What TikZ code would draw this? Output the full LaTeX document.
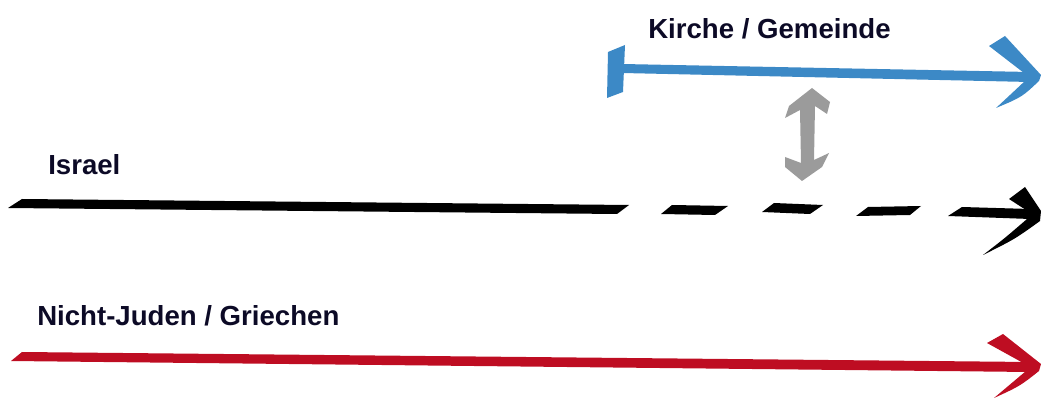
\documentclass[tikz,border=0pt]{standalone}
\usepackage{fontspec}
\setmainfont{Liberation Sans}
\definecolor{inkblue}{RGB}{60,137,198}
\definecolor{inkgray}{RGB}{155,155,155}
\definecolor{inkred}{RGB}{190,13,34}
\definecolor{labelink}{RGB}{12,10,38}
\begin{document}
\begin{tikzpicture}[x=0.75pt,y=-0.75pt,
  label/.style={anchor=base west,inner sep=0pt,text=labelink,
    font=\fontsize{20.7}{24}\selectfont\bfseries},
  brush/.style={line join=round}]
\useasboundingbox (0,0) rectangle (1041,398);

% labels
\node[label] (kirche) at (648,39) {Kirche / Gemeinde};
\node[label] (israel) at (48,175) {Israel};
\node[label] (heiden) at (37,326) {Nicht-Juden / Griechen};

% Kirche / Gemeinde: bar at the start, line, open head
\coordinate (kStart) at (616,70);
\coordinate (kTip) at (1041,75);
\fill[inkblue,brush] (608,52) -- (625,45) -- (623,92) -- (607,98) -- cycle;
\fill[inkblue,brush] (622,64) -- (1030,72) -- (1030,82) -- (622,73) -- cycle;
\fill[inkblue,brush] (989,46) -- (1005,36) -- (kTip) -- (1039,81)
  .. controls (1022,97) .. (996,108) .. controls (1010,95) .. (1026,80)
  -- (1024,73) -- cycle;

% gray double arrow between church and Israel
\coordinate (gTop) at (812,88);
\coordinate (gBot) at (802,181);
\fill[inkgray,brush] (gTop) -- (830,102) -- (827,114) -- (815,106)
  -- (814,160) -- (829,153) -- (822,167) -- (gBot) -- (785,167)
  -- (785,157) -- (801,163) -- (800,110) -- (785,118) -- (789,106) -- cycle;

% Israel: solid stretch, then dashes, then head
\coordinate (iStart) at (15,203);
\coordinate (iTip) at (1041,216);
\fill[black,brush] (8,208) -- (22,199) -- (629,205) -- (617,214) -- cycle;
\fill[black,brush] (661,214) -- (672,205) -- (728,206) -- (715,215) -- cycle;
\fill[black,brush] (762,212) -- (774,203) -- (823,205) -- (810,214) -- cycle;
\fill[black,brush] (856,216) -- (868,207) -- (921,206) -- (910,215) -- cycle;
\fill[black,brush] (948,216) -- (962,207) -- (1030,209) -- (1030,219) -- cycle;
\fill[black,brush] (1009,199) -- (1025,187) -- (1041,211) -- (1040,221)
  .. controls (1015,239) .. (983,255) .. controls (1005,238) .. (1027,219)
  -- (1029,212) -- cycle;

% Nicht-Juden / Griechen
\coordinate (nStart) at (16,357);
\coordinate (nTip) at (1041,364);
\fill[inkred,brush] (11,361) -- (22,352) -- (1030,362) -- (1030,372) -- cycle;
\fill[inkred,brush] (987,343) -- (1003,334) -- (nTip) -- (1039,371)
  .. controls (1020,386) .. (994,398) .. controls (1010,385) .. (1026,371)
  -- (1025,364) -- cycle;
\end{tikzpicture}
\end{document}
